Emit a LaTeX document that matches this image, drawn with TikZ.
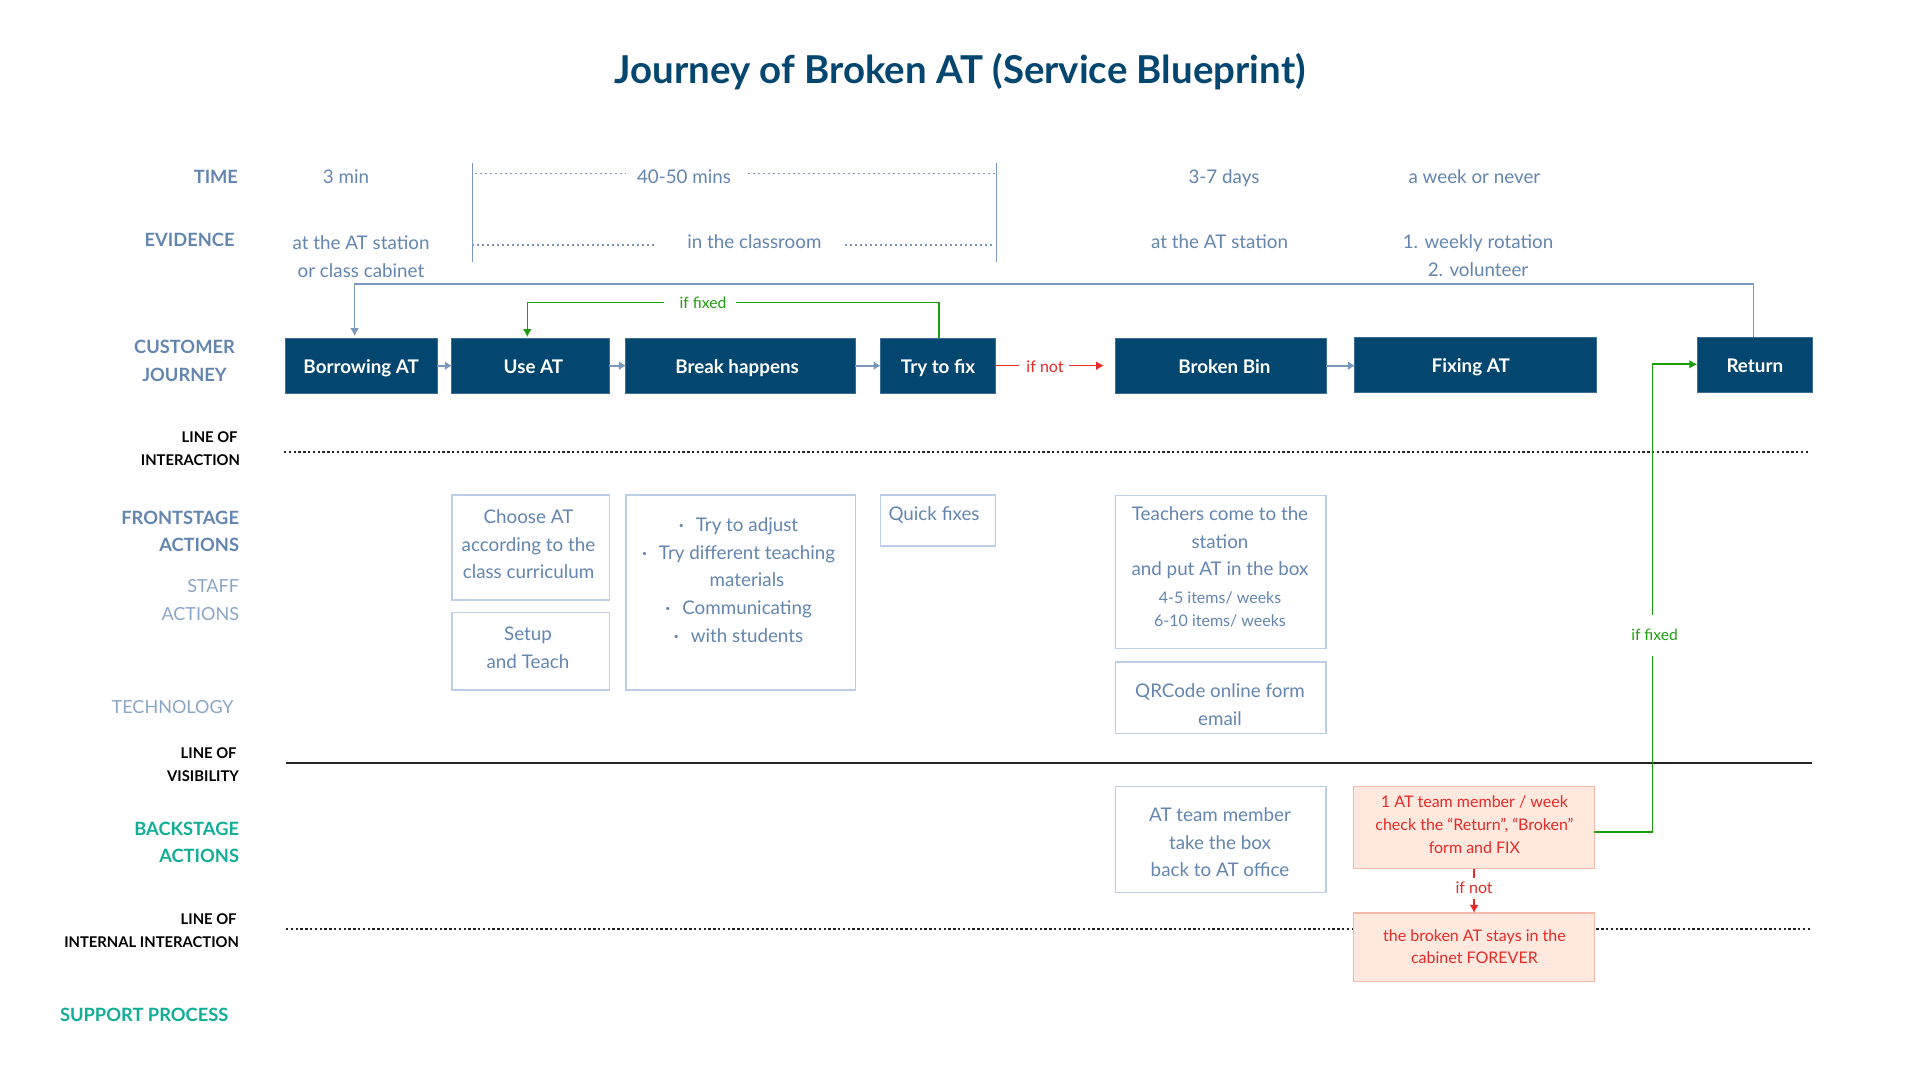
\documentclass[tikz,border=0pt]{standalone}
\usepackage{fontspec}
\setmainfont{Lato}
\usetikzlibrary{arrows.meta}
\definecolor{navy}{HTML}{03466F}
\definecolor{steel}{HTML}{6286B0}
\definecolor{pale}{HTML}{8AA6C6}
\definecolor{edgeblue}{HTML}{BCCFE6}
\definecolor{teal}{HTML}{10AE96}
\definecolor{gogreen}{HTML}{1C9E0C}
\definecolor{stopred}{HTML}{E62A25}
\definecolor{peach}{HTML}{FFE9DF}
\definecolor{peachedge}{HTML}{F5B9A8}
\newcommand{\fs}[2]{\fontsize{#1pt}{#2pt}\selectfont}
\newcommand{\blt}{\makebox[0pt][r]{\raisebox{.15em}{\scalebox{.45}{\textbullet}}\hspace{6pt}}}
\tikzset{
  x=.5pt,y=-.5pt,
  txt/.style={inner sep=0pt,outer sep=0pt,text=steel,font=\fs{9.4}{13.85},align=center},
  smalltxt/.style={txt,font=\fs{8}{11.4}},
  rowhead/.style={inner sep=0pt,outer sep=0pt,anchor=east,text=steel,font=\bfseries\fs{9.15}{13.85},align=right},
  rowpale/.style={rowhead,font=\fs{9}{13.85},text=pale},
  rowteal/.style={rowhead,text=teal},
  rowline/.style={inner sep=0pt,outer sep=0pt,anchor=east,text=black,font=\bfseries\fs{7.4}{11.4},align=right},
  darkbox/.style={draw=navy!70!edgeblue,line width=.5pt,fill=navy,text=white,font=\bfseries\fs{9.4}{13.85},inner sep=0pt,outer sep=0pt,text height=7.6pt,text depth=0pt},
  lightbox/.style={draw=edgeblue,line width=.75pt,inner sep=0pt,outer sep=0pt},
  redbox/.style={draw=peachedge,line width=.6pt,fill=peach,inner sep=0pt,outer sep=0pt},
  redtxt/.style={txt,text=stopred,font=\fs{8}{11.4}},
  step arrow/.style={draw=steel!85,line width=1pt,-{Latex[length=3.5pt,width=4.5pt]}},
  blueroute/.style={draw=steel!85,line width=.75pt,-{Latex[length=4pt,width=4.5pt]}},
  greenroute/.style={draw=gogreen,line width=.8pt,-{Latex[length=4pt,width=4.5pt]}},
  redroute/.style={draw=stopred,line width=.75pt,-{Latex[length=4pt,width=4.5pt]}},
  guide/.style={draw=steel!85,line width=.5pt},
  guidedots/.style={draw=steel!85,line width=.7pt,dash pattern=on 1.1pt off 1.4pt},
  blackdots/.style={draw=black!85,line width=.9pt,dash pattern=on 1.2pt off 1.2pt},
  greenlabel/.style={fill=white,inner sep=0pt,outer sep=0pt,text=gogreen,font=\fs{7.8}{10}},
  redlabel/.style={fill=white,inner sep=0pt,outer sep=0pt,text=stopred,font=\fs{8}{10}},
}
\begin{document}
\begin{tikzpicture}
\useasboundingbox (0,0) rectangle (1920,1080);
\fill[white] (0,0) rectangle (1920,1080);

\node[inner sep=0pt,text=navy,font=\bfseries\fs{19.2}{22}] (title) at (960,71.5) {Journey of Broken AT (Service Blueprint)};

% row heads
\node[rowhead] (hTime) at (238,176.7) {TIME};
\node[rowhead] (hEvid) at (234.5,240) {EVIDENCE};
\node[rowhead,anchor=center,align=center] (hCust) at (184.5,361) {CUSTOMER\\JOURNEY};
\node[rowline] (hInter) at (240,449) {LINE OF\kern1.2pt\\INTERACTION};
\node[rowhead] (hFront) at (239,531.5) {FRONTSTAGE\\ACTIONS};
\node[rowpale] (hStaff) at (239,600) {STAFF\\ACTIONS};
\node[rowpale] (hTech) at (233.5,707) {TECHNOLOGY};
\node[rowline] (hVis) at (239,765) {LINE OF\kern1.2pt\\VISIBILITY};
\node[rowteal] (hBack) at (239,842.5) {BACKSTAGE\\ACTIONS};
\node[rowline] (hIntl) at (239,930.5) {LINE OF\kern1.2pt\\INTERNAL INTERACTION};
\node[rowteal,anchor=west] (hSupp) at (60,1015) {SUPPORT PROCESS};

% time row
\node[txt] (t1) at (346,177) {3 min};
\node[txt] (t2) at (684,177) {40-50 mins};
\node[txt] (t3) at (1224,178) {3-7 days};
\node[txt] (t4) at (1474.4,177) {a week or never};
% evidence row
\node[txt] (e1) at (361,257) {at the AT station\\or class cabinet};
\node[txt] (e2) at (754.4,242) {in the classroom};
\node[txt] (e3) at (1219.6,242) {at the AT station};
\node[txt] (e4) at (1478,256) {1. weekly rotation\\2. volunteer};

% bracket guides
\draw[guide] (472,162.7) -- (472,261.7);
\draw[guide] (996,162.7) -- (996,261.7);
\draw[guidedots] (475,173.3) -- (626,173.3);
\draw[guidedots] (748,173.3) -- (996,173.3);
\draw[guidedots] (472,245) -- (656.5,245);
\draw[guidedots] (845,245) -- (994,245);

% section lines
\draw[blackdots] (284,452.3) -- (1810,452.3);
\draw[draw=black!85,line width=.9pt] (286,763) -- (1812,763);
\draw[blackdots] (286,928.8) -- (1812,928.8);

% journey
\node[darkbox,minimum width=75.8pt,minimum height=27.65pt] (borrow) at (361.2,365.7) {Borrowing AT};
\node[darkbox,minimum width=78.65pt,minimum height=27.65pt] (use) at (530.6,365.7) {\kern2.8pt Use AT};
\node[darkbox,minimum width=114.75pt,minimum height=27.65pt] (break) at (740.7,365.7) {Break happens\kern3.6pt};
\node[darkbox,minimum width=57.45pt,minimum height=27.65pt] (try) at (938,365.7) {Try to fix};
\node[darkbox,minimum width=105.35pt,minimum height=27.65pt] (bin) at (1220.8,365.7) {\kern3.6pt Broken Bin};
\node[darkbox,minimum width=120.65pt,minimum height=27.7pt] (fixing) at (1475.6,365) {Fixing AT\kern4.9pt};
\node[darkbox,minimum width=57.55pt,minimum height=27.7pt] (return) at (1754.8,365) {Return};

% frontstage boxes
\node[lightbox,minimum width=78.65pt,minimum height=52.7pt] (choose) at (530.6,547.5) {};
\node[txt] (chooseT) at (528.5,544.3) {Choose AT\\according to the\\class curriculum};
\node[lightbox,minimum width=78.65pt,minimum height=38.7pt] (setup) at (530.6,651.1) {};
\node[txt] (setupT) at (528,648) {Setup\\and Teach};
\node[lightbox,minimum width=114.75pt,minimum height=97.5pt] (tries) at (740.7,592.3) {};
\node[txt] (triesT) at (747,580) {\blt Try to adjust\\\blt Try different teaching\\materials\\\blt Communicating\\\blt with students};
\node[lightbox,minimum width=57.45pt,minimum height=25.55pt] (quick) at (938,520.3) {};
\node[txt] (quickT) at (934,514.8) {Quick fixes};
\node[lightbox,minimum width=105.35pt,minimum height=76.4pt] (teach) at (1220.8,571.9) {};
\node[txt] (teachT) at (1220,542.7) {Teachers come to the\\station\\and put AT in the box};
\node[smalltxt] (teachS) at (1220,609.7) {4-5 items/ weeks\\6-10 items/ weeks};
\node[lightbox,minimum width=105.35pt,minimum height=35.7pt] (qr) at (1220.8,697.7) {};
\node[txt] (qrT) at (1220,704.8) {QRCode online form\\email};
\node[lightbox,minimum width=105.35pt,minimum height=53.1pt] (team) at (1220.8,839.4) {};
\node[txt] (teamT) at (1220,842.3) {AT team member\\take the box\\back to AT office};

% red boxes
\node[redbox,minimum width=120.3pt,minimum height=41.25pt] (check) at (1474.1,827.5) {};
\node[redtxt] (checkT) at (1474.4,824.8) {1 AT team member / week\\check the “Return”, “Broken”\\form and FIX};
\node[redbox,minimum width=120.3pt,minimum height=34.2pt] (forever) at (1474.1,947.1) {};
\node[redtxt] (foreverT) at (1474.4,946.6) {the broken AT stays in the\\cabinet FOREVER};

% connectors
\draw[step arrow] (borrow.east) -- (use.west);
\draw[step arrow] (use.east) -- (break.west);
\draw[step arrow] (break.east) -- (try.west);
\draw[step arrow] (bin.east) -- (bin.east -| fixing.west);

\coordinate (blueTop) at (354.6,284);
\draw[blueroute,shorten >=1pt] ([xshift=-.6pt]return.north) |- (blueTop) -- (blueTop |- borrow.north);

\coordinate (greenTop) at (527.3,302.7);
\draw[greenroute,shorten >=.5pt] ([xshift=.35pt]try.north) |- (greenTop) -- (greenTop |- use.north);
\node[greenlabel,minimum width=36pt,minimum height=9pt] (fix1) at (700,302.7) {\kern3pt if fixed};

\coordinate (binStop) at (1104,365.7);
\draw[redroute] (try.east) -- (binStop);
\node[redlabel,minimum width=25pt,minimum height=9pt] (not1) at (1044,367) {\kern1pt if not};

\draw[redroute] (check.south) -- (forever.north);
\node[redlabel,minimum width=20pt,minimum height=10.5pt] (not2) at (1474.1,888) {if not};

\coordinate (greenOut) at (1594.4,832);
\coordinate (greenUp) at (1652.6,364.3);
\draw[greenroute] (greenOut) -| (greenUp) -- (greenUp -| return.west);
\node[greenlabel,minimum width=26pt,minimum height=20.5pt] (fix2) at (1654.5,635) {if fixed};
\end{tikzpicture}
\end{document}
